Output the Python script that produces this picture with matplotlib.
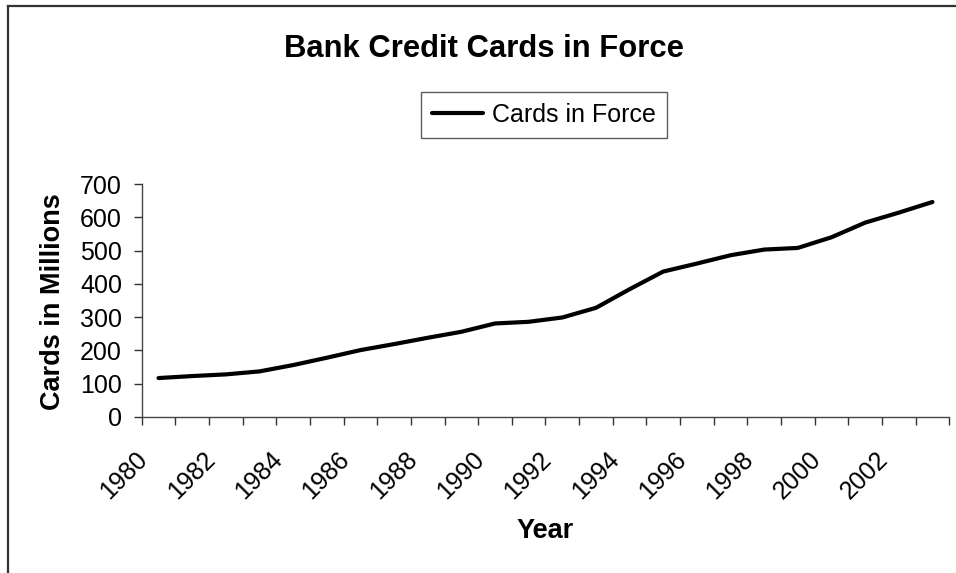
import matplotlib
matplotlib.use("Agg")
import matplotlib.pyplot as plt
from matplotlib.lines import Line2D
from matplotlib.transforms import ScaledTranslation

plt.rcParams['font.family'] = ['Liberation Sans', 'DejaVu Sans']

years = list(range(1980, 2004))
cards = [117, 123, 128, 137, 156, 178, 201, 219, 238, 256, 281, 286, 299, 328,
         384, 437, 461, 486, 503, 508, 540, 584, 614, 646]
yticks = [0, 100, 200, 300, 400, 500, 600, 700]
label_years = years[::2]

W, H = 956, 573
fig = plt.figure(figsize=(W / 100, H / 100), dpi=100)
fig.patch.set_facecolor('white')

ax = fig.add_axes([141.7 / W, 1 - 417 / H, (949.3 - 141.7) / W, (417 - 184) / H])
xs = [i + 0.5 for i in range(len(years))]
line, = ax.plot(xs, cards, color='black', lw=3, solid_capstyle='round',
                solid_joinstyle='round', label='Cards in Force')
ax.set_xlim(0, len(years))
ax.set_ylim(0, 700)
ax.set_yticks(yticks)
ax.set_yticklabels([str(v) for v in yticks], fontsize=18)

# category boundary ticks (major) and label positions (minor)
ax.set_xticks(range(len(years) + 1))
ax.set_xticklabels([])
ax.set_xticks([xs[years.index(y)] for y in label_years], minor=True)
ax.set_xticklabels([str(y) for y in label_years], minor=True, fontsize=18,
                   rotation=45, ha='right', va='top')
ax.tick_params(axis='x', which='major', length=5.8, width=1, color='#333333', direction='out')
ax.tick_params(axis='x', which='minor', length=0, pad=21.5)
ax.tick_params(axis='y', length=5.8, width=1, color='#333333', pad=8.4)
for lab in ax.get_xticklabels(minor=True):
    lab.set_transform(lab.get_transform() + ScaledTranslation(-0.06, 0, fig.dpi_scale_trans))

for s in ['top', 'right']:
    ax.spines[s].set_visible(False)
for s in ['left', 'bottom']:
    ax.spines[s].set_color('#444444')
    ax.spines[s].set_linewidth(1)

fig.text(484 / W, 1 - 49 / H, 'Bank Credit Cards in Force', fontsize=22.3,
         fontweight='bold', ha='center', va='center')
fig.text(53 / W, 1 - 302 / H, 'Cards in Millions', fontsize=19.5, fontweight='bold',
         rotation=90, ha='center', va='center')
fig.text(545 / W, 1 - 531 / H, 'Year', fontsize=19.5, fontweight='bold',
         ha='center', va='center')

leg = fig.legend(handles=[line], loc='center', bbox_to_anchor=(544 / W, 1 - 115 / H),
                 fontsize=18, frameon=True, fancybox=False, shadow=False,
                 handlelength=2.05, handletextpad=0.35, borderpad=0.45, borderaxespad=0)
leg.get_frame().set_edgecolor('#333333')
leg.get_frame().set_linewidth(1)

# chart-area border (left and top visible)
fig.add_artist(Line2D([7.5 / W, 7.5 / W], [0, 1 - 6 / H], transform=fig.transFigure,
                      color='#333333', lw=1.6))
fig.add_artist(Line2D([7.5 / W, 1], [1 - 6 / H, 1 - 6 / H], transform=fig.transFigure,
                      color='#333333', lw=1.6))

fig.savefig('out.png', dpi=100)
